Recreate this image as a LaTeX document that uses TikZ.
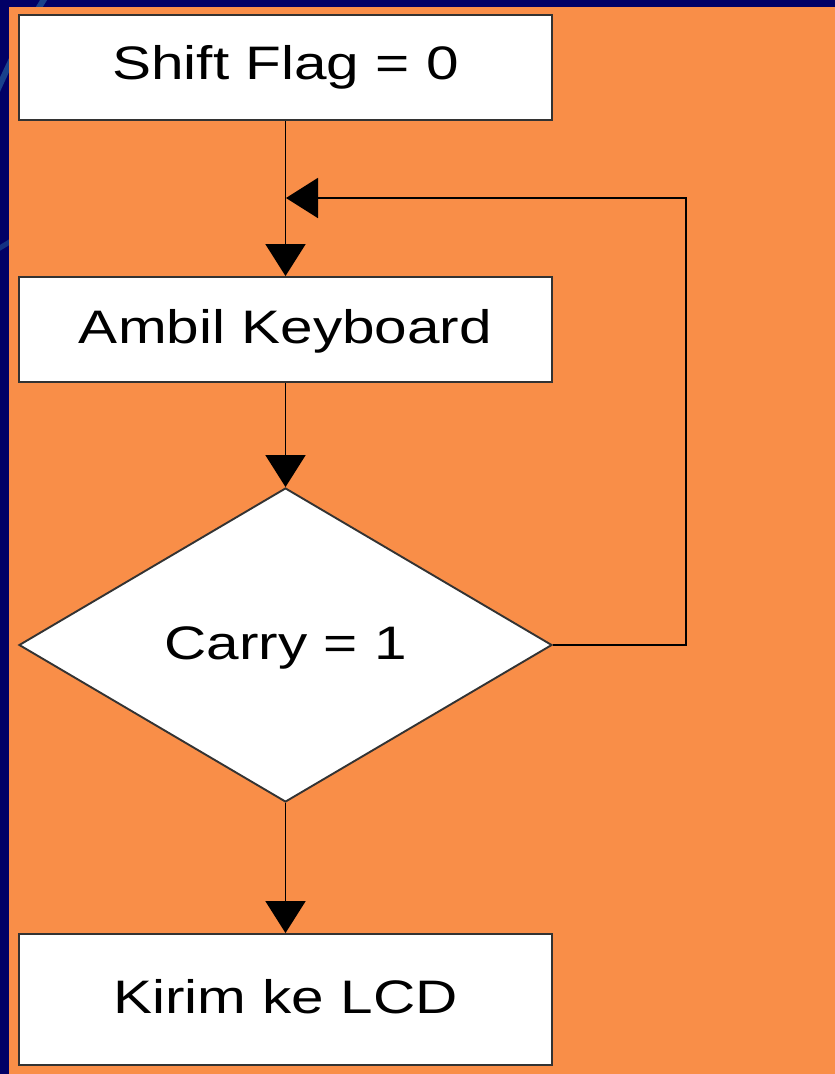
\documentclass[tikz,border=0pt]{standalone}
\usepackage{fontspec}
\usepackage{graphicx}
\setmainfont{Liberation Sans}
\usetikzlibrary{arrows.meta,shapes.geometric}
\definecolor{slidenavy}{HTML}{010066}
\definecolor{swoosh}{HTML}{1F5296}
\definecolor{panelorange}{HTML}{F98E48}
% wide text, as set on the slide
\newcommand{\widetext}[1]{\scalebox{1.245}[1]{\fontsize{47}{51}\selectfont #1}}
\tikzset{
  shapeline/.style={draw=black!80, line width=1.9pt, fill=white, inner sep=0pt},
  procbox/.style={shapeline, minimum width=533pt, minimum height=105pt},
  caption/.style={inner sep=0pt, text height=33pt, text depth=0pt},
  flowline/.style={draw=black, line width=1.9pt},
  flowarrow/.style={flowline, -{Triangle[width=40pt,length=32pt]}},
}
\begin{document}
\begin{tikzpicture}[x=1pt,y=-1pt]
  % slide background
  \fill[slidenavy] (0,0) rectangle (835,1074);
  \begin{scope}
    \clip (0,0) rectangle (835,1074);
    \draw[swoosh, line width=6pt, opacity=0.8] (-20,130) .. controls (10,60) and (30,20) .. (50,-10);
    \draw[swoosh, line width=5pt, opacity=0.6] (-20,260) .. controls (5,245) and (20,235) .. (40,225);
  \end{scope}
  \fill[panelorange] (9,7) rectangle (835,1074);

  % flowchart shapes
  \node[procbox] (flag) at (285.5,67.5) {};
  \node[procbox] (key) at (285.5,329.5) {};
  \node[shapeline, diamond, minimum width=533pt, minimum height=314pt, aspect=1.7] (carry) at (285.5,645) {};
  \node[procbox, minimum height=131pt] (lcd) at (285.5,999.5) {};

  % captions
  \node[caption] (flagtext)  at ([yshift=5pt]flag.center)  {\widetext{Shift Flag = 0}};
  \node[caption] (keytext)   at ([yshift=3pt]key.center)   {\widetext{Ambil Keyboard}};
  \node[caption] (carrytext) at ([yshift=2pt]carry.center) {\widetext{Carry = 1}};
  \node[caption] (lcdtext)   at ([yshift=3pt]lcd.center)   {\widetext{Kirim ke LCD}};

  \coordinate (join) at (286,198);
  \coordinate (turn) at (686,645);

  % connectors
  \draw[flowarrow] (flag.south) -- (key.north);
  \draw[flowarrow] (key.south) -- (carry.north);
  \draw[flowarrow] (carry.south) -- (lcd.north);
  \draw[flowarrow] (carry.east) -- (turn) |- (join);
\end{tikzpicture}
\end{document}
